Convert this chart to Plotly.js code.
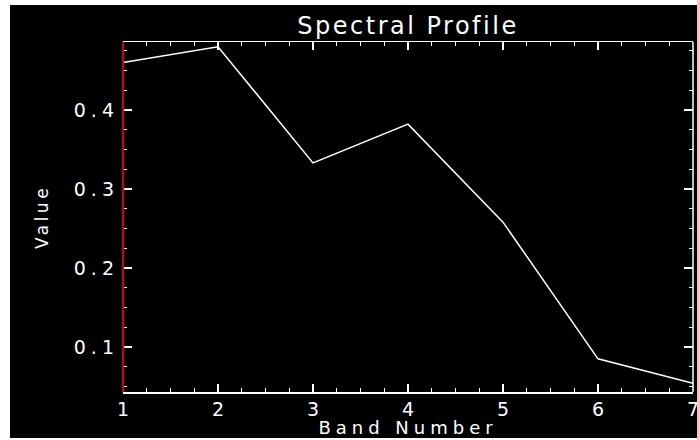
<!DOCTYPE html>
<html>
<head>
<meta charset="utf-8">
<script src="https://cdn.plot.ly/plotly-3.0.1.min.js"></script>
<style>
  html, body { margin: 0; padding: 0; background: #ffffff; width: 697px; height: 440px; overflow: hidden; }
  #chart { position: absolute; left: 10px; top: 5px; width: 687px; height: 433px; }
  .ytick text { letter-spacing: 5px; }
  .g-xtitle text { letter-spacing: 5px; }
  .g-ytitle text { letter-spacing: 3.5px; }
  .g-gtitle text { letter-spacing: 2.5px; }
</style>
</head>
<body>
<div id="chart"></div>
<script>
const bands = [1, 2, 3, 4, 5, 6, 7];
const values = [0.460, 0.480, 0.333, 0.382, 0.258, 0.085, 0.054];
const yTickVals = [0.1, 0.2, 0.3, 0.4];
const yTickText = ['0.1', '0.2', '0.3', '0.4'];
const cursorBand = bands[0];

const fontFam = 'DejaVu Sans, sans-serif';
const xRange = [bands[0], bands[bands.length - 1]];
const cursorPaperX = (cursorBand - xRange[0]) / (xRange[1] - xRange[0]);

const trace = {
  x: bands,
  y: values,
  type: 'scatter',
  mode: 'lines',
  line: { color: '#ffffff', width: 1.5 },
  hoverinfo: 'skip'
};

const layout = {
  width: 687,
  height: 433,
  paper_bgcolor: '#000000',
  plot_bgcolor: '#000000',
  margin: { l: 113, r: 4, t: 37, b: 46 },
  showlegend: false,
  title: {
    text: 'Spectral Profile',
    font: { family: fontFam, size: 24, color: '#ffffff' },
    x: 0.5, xref: 'paper', xanchor: 'center',
    y: 1, yref: 'container', yanchor: 'top', pad: { t: 12 }
  },
  xaxis: {
    range: xRange,
    tickvals: bands,
    ticktext: bands.map(String),
    ticks: 'inside',
    ticklen: 8,
    tickwidth: 1.5,
    tickcolor: '#ffffff',
    showline: true,
    linecolor: '#ffffff',
    linewidth: 1.5,
    mirror: 'ticks',
    showgrid: false,
    zeroline: false,
    ticklabeloverflow: 'allow',
    tickfont: { family: fontFam, size: 19, color: '#ffffff' },
    minor: { dtick: 0.25, ticks: 'inside', ticklen: 4, tickwidth: 1.2, tickcolor: '#ffffff', showgrid: false },
    title: { text: 'Band Number', font: { family: fontFam, size: 18, color: '#ffffff' }, standoff: 1 }
  },
  yaxis: {
    range: [0.043, 0.486],
    tickvals: yTickVals,
    ticktext: yTickText,
    ticks: 'inside',
    ticklen: 9,
    tickwidth: 1.5,
    tickcolor: '#ffffff',
    showline: false,
    mirror: 'ticks',
    showgrid: false,
    zeroline: false,
    ticklabelstandoff: 3,
    tickfont: { family: fontFam, size: 19, color: '#ffffff' },
    minor: { dtick: 0.025, tick0: 0, ticks: 'inside', ticklen: 4, tickwidth: 1.2, tickcolor: '#ffffff', showgrid: false },
    title: { text: 'Value', font: { family: fontFam, size: 17, color: '#ffffff' }, standoff: 20 }
  },
  shapes: [
    {
      type: 'line',
      xref: 'paper', yref: 'paper',
      x0: cursorPaperX, x1: cursorPaperX, y0: 0, y1: 1,
      line: { color: '#a5141e', width: 2.5 },
      layer: 'above'
    },
    {
      type: 'line',
      xref: 'paper', yref: 'paper',
      x0: 1, x1: 1, y0: 0, y1: 1,
      line: { color: '#ffffff', width: 1.5 },
      layer: 'above'
    }
  ]
};

Plotly.newPlot('chart', [trace], layout, { displayModeBar: false, staticPlot: true });
</script>
</body>
</html>
